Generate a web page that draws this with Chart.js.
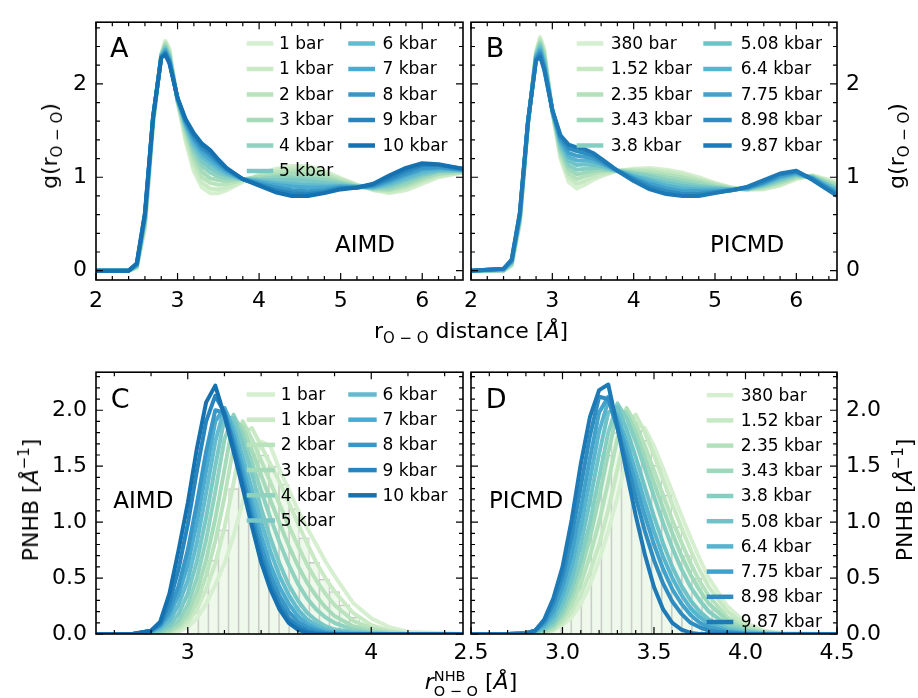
<!DOCTYPE html>
<html>
<head>
<meta charset="utf-8">
<script src="https://cdn.jsdelivr.net/npm/chart.js@4.4.0/dist/chart.umd.min.js"></script>
<style>
  html, body { margin: 0; padding: 0; background: #fff; }
  #fig { position: relative; width: 918px; height: 698px; font-family: "DejaVu Sans", sans-serif; color: #000; overflow: hidden; }
  canvas { position: absolute; }
  .lab { position: absolute; white-space: nowrap; font-size: 22px; line-height: 1; }
  .ctr { transform: translateX(-50%); }
  .rot { transform: translate(-50%, -50%) rotate(-90deg); }
  .sub { font-size: 0.68em; position: relative; top: 0.35em; }
  .sup { font-size: 0.68em; position: relative; top: -0.6em; }
  .stk { display: inline-block; position: relative; font-size: 0.66em; }
  .stk .sb { position: relative; top: 0.45em; }
  .stk .sp { position: absolute; left: 0; top: -0.55em; }
</style>
</head>
<body>
<div id="fig">
  <canvas id="cA" width="475" height="320" style="left:0;top:0"></canvas>
  <canvas id="cB" width="473" height="320" style="left:445px;top:0"></canvas>
  <canvas id="cC" width="475" height="340" style="left:0;top:350px"></canvas>
  <canvas id="cD" width="473" height="340" style="left:445px;top:350px"></canvas>

  <div class="lab rot" style="left:50px;top:146px">g(r<span class="sub">O − O</span>)</div>
  <div class="lab rot" style="left:897px;top:146px">g(r<span class="sub">O − O</span>)</div>
  <div class="lab ctr" style="left:471px;top:320px">r<span class="sub">O − O</span> distance [<i>Å</i>]</div>
  <div class="lab rot" style="left:31px;top:500px">PNHB [<i>Å</i><span class="sup">−1</span>]</div>
  <div class="lab rot" style="left:905px;top:500px">PNHB [<i>Å</i><span class="sup">−1</span>]</div>
  <div class="lab ctr" style="left:471px;top:671px"><i>r</i><span class="stk"><span class="sb">O − O</span><span class="sp">NHB</span></span> [<i>Å</i>]</div>
</div>
<script>
// ---- labels ----
const aimdLabels = ['1 bar', '1 kbar', '2 kbar', '3 kbar', '4 kbar', '5 kbar', '6 kbar', '7 kbar', '8 kbar', '9 kbar', '10 kbar'];
const picmdLabels = ['380 bar', '1.52 kbar', '2.35 kbar', '3.43 kbar', '3.8 kbar', '5.08 kbar', '6.4 kbar', '7.75 kbar', '8.98 kbar', '9.87 kbar'];

// ---- g(r) grid (A, B) ----
const rGrid = [2.0, 2.4, 2.5, 2.6, 2.7, 2.8, 2.85, 2.9, 3.0, 3.1, 3.2, 3.3, 3.4, 3.5, 3.6, 3.8, 4.0, 4.2, 4.4, 4.6, 4.8, 5.0, 5.2, 5.4, 5.6, 5.8, 6.0, 6.2, 6.5];

// A: AIMD g(r)
const gA_1bar  = [0,0,0.03,0.45,1.55,2.32,2.46,2.38,1.80,1.38,1.06,0.89,0.83,0.83,0.86,0.95,1.03,1.09,1.12,1.12,1.07,0.99,0.92,0.86,0.83,0.86,0.93,1.00,1.05];
const gA_1kbar = [0,0,0.03,0.47,1.57,2.32,2.45,2.36,1.81,1.42,1.11,0.94,0.88,0.87,0.89,0.96,1.02,1.07,1.10,1.10,1.05,0.98,0.92,0.87,0.84,0.88,0.95,1.01,1.05];
const gA_2kbar = [0,0,0.04,0.49,1.58,2.31,2.43,2.34,1.81,1.46,1.17,1.00,0.94,0.92,0.93,0.97,1.01,1.05,1.07,1.07,1.03,0.97,0.91,0.87,0.86,0.90,0.97,1.03,1.06];
const gA_3kbar = [0,0,0.04,0.51,1.60,2.31,2.42,2.32,1.82,1.49,1.22,1.06,0.99,0.97,0.96,0.98,1.00,1.02,1.04,1.03,1.00,0.95,0.91,0.88,0.87,0.92,0.99,1.04,1.06];
const gA_4kbar = [0,0,0.05,0.53,1.61,2.31,2.40,2.30,1.82,1.52,1.27,1.12,1.05,1.01,0.99,0.98,0.98,1.00,1.00,0.99,0.97,0.94,0.90,0.88,0.89,0.94,1.01,1.06,1.07];
const gA_5kbar = [0,0,0.05,0.55,1.62,2.30,2.39,2.29,1.83,1.54,1.31,1.17,1.10,1.05,1.02,0.98,0.97,0.97,0.97,0.96,0.94,0.92,0.90,0.89,0.91,0.97,1.03,1.07,1.07];
const gA_6kbar = [0,0,0.06,0.56,1.63,2.30,2.37,2.27,1.83,1.56,1.35,1.22,1.15,1.09,1.04,0.98,0.96,0.94,0.93,0.92,0.91,0.91,0.90,0.89,0.93,0.99,1.05,1.08,1.08];
const gA_7kbar = [0,0,0.06,0.58,1.64,2.29,2.36,2.26,1.84,1.58,1.39,1.26,1.19,1.12,1.06,0.98,0.95,0.92,0.90,0.89,0.89,0.90,0.89,0.90,0.95,1.02,1.08,1.10,1.08];
const gA_8kbar = [0,0,0.07,0.59,1.64,2.29,2.34,2.24,1.84,1.59,1.42,1.30,1.23,1.15,1.08,0.98,0.93,0.89,0.86,0.85,0.86,0.89,0.89,0.91,0.97,1.04,1.10,1.11,1.08];
const gA_9kbar = [0,0,0.07,0.61,1.65,2.28,2.33,2.23,1.85,1.61,1.45,1.33,1.26,1.17,1.09,0.98,0.92,0.86,0.83,0.82,0.84,0.88,0.89,0.92,0.99,1.07,1.13,1.13,1.09];
const gA_10kbar = [0,0,0.08,0.62,1.65,2.28,2.31,2.22,1.85,1.62,1.47,1.36,1.29,1.19,1.10,0.98,0.91,0.84,0.80,0.80,0.83,0.87,0.89,0.93,1.02,1.10,1.15,1.14,1.09];

// B: PICMD g(r)
const gB_380bar = [0,0,0.05,0.50,1.55,2.35,2.50,2.38,1.70,1.20,0.95,0.88,0.92,0.97,1.01,1.07,1.09,1.10,1.08,1.05,1.00,0.94,0.89,0.87,0.87,0.91,0.98,1.02,0.95];
const gB_1p52 = [0,0,0.06,0.51,1.56,2.34,2.48,2.35,1.70,1.23,1.00,0.93,0.96,1.00,1.03,1.07,1.08,1.08,1.06,1.03,0.98,0.93,0.89,0.87,0.88,0.92,0.99,1.02,0.93];
const gB_2p35 = [0,0,0.07,0.53,1.56,2.33,2.46,2.33,1.70,1.26,1.04,0.98,1.01,1.04,1.06,1.07,1.07,1.06,1.03,1.00,0.96,0.92,0.88,0.87,0.89,0.94,1.00,1.01,0.92];
const gB_3p43 = [0,0,0.07,0.54,1.57,2.32,2.44,2.30,1.71,1.29,1.09,1.03,1.05,1.07,1.08,1.07,1.05,1.03,1.00,0.97,0.94,0.90,0.88,0.87,0.90,0.95,1.01,1.01,0.90];
const gB_3p8  = [0,0.01,0.08,0.55,1.57,2.31,2.42,2.28,1.71,1.32,1.13,1.08,1.09,1.10,1.10,1.07,1.04,1.01,0.97,0.94,0.91,0.89,0.87,0.88,0.91,0.97,1.02,1.00,0.88];
const gB_5p08 = [0,0.01,0.09,0.57,1.58,2.30,2.40,2.25,1.71,1.35,1.18,1.13,1.14,1.13,1.12,1.07,1.02,0.98,0.94,0.91,0.89,0.88,0.87,0.88,0.92,0.98,1.03,1.00,0.87];
const gB_6p4  = [0,0.01,0.10,0.58,1.58,2.29,2.37,2.22,1.71,1.38,1.22,1.18,1.18,1.17,1.14,1.07,1.01,0.96,0.91,0.88,0.87,0.87,0.87,0.88,0.93,1.00,1.04,0.99,0.85];
const gB_7p75 = [0,0.02,0.10,0.59,1.59,2.28,2.35,2.20,1.72,1.40,1.26,1.23,1.22,1.20,1.16,1.07,0.99,0.93,0.88,0.85,0.85,0.85,0.86,0.89,0.94,1.01,1.05,0.99,0.83];
const gB_8p98 = [0,0.02,0.11,0.61,1.59,2.26,2.32,2.17,1.72,1.43,1.31,1.28,1.26,1.23,1.18,1.07,0.98,0.90,0.85,0.82,0.82,0.84,0.86,0.89,0.95,1.03,1.06,0.98,0.82];
const gB_9p87 = [0,0.02,0.12,0.62,1.60,2.25,2.29,2.15,1.72,1.45,1.35,1.32,1.30,1.26,1.20,1.07,0.96,0.87,0.82,0.80,0.80,0.83,0.86,0.90,0.97,1.04,1.07,0.97,0.80];

// ---- PNHB grid (C, D) ----
const nhbGrid = [2.5, 2.7, 2.8, 2.85, 2.9, 2.95, 3.0, 3.05, 3.1, 3.15, 3.2, 3.25, 3.3, 3.35, 3.4, 3.45, 3.5, 3.55, 3.6, 3.65, 3.7, 3.75, 3.8, 3.9, 4.0, 4.1, 4.2, 4.5];

// C: AIMD PNHB
const pC_1bar  = [0,0,0,0,0.01,0.02,0.06,0.14,0.27,0.44,0.63,0.88,1.18,1.47,1.72,1.68,1.47,1.29,1.11,0.95,0.80,0.65,0.52,0.28,0.14,0.06,0.02,0];
const pC_1kbar = [0,0,0,0,0.01,0.04,0.10,0.22,0.40,0.63,0.95,1.35,1.80,1.84,1.68,1.52,1.36,1.18,0.99,0.81,0.64,0.50,0.38,0.19,0.08,0.03,0.01,0];
const pC_2kbar = [0,0,0,0.01,0.02,0.06,0.14,0.29,0.52,0.83,1.22,1.68,1.90,1.74,1.55,1.36,1.16,0.97,0.79,0.62,0.48,0.36,0.26,0.12,0.05,0.02,0,0];
const pC_3kbar = [0,0,0,0.01,0.03,0.08,0.19,0.38,0.66,1.03,1.47,1.92,1.85,1.64,1.42,1.20,0.99,0.79,0.61,0.46,0.34,0.24,0.16,0.07,0.03,0.01,0,0];
const pC_4kbar = [0,0,0.01,0.02,0.05,0.12,0.26,0.50,0.84,1.27,1.74,1.96,1.78,1.53,1.28,1.04,0.82,0.62,0.45,0.32,0.22,0.15,0.10,0.04,0.01,0,0,0];
const pC_5kbar = [0,0,0.01,0.03,0.08,0.18,0.36,0.65,1.04,1.50,1.93,1.93,1.70,1.43,1.12,0.86,0.63,0.44,0.30,0.19,0.12,0.07,0.04,0.02,0.01,0,0,0];
const pC_6kbar = [0,0,0.02,0.05,0.12,0.26,0.48,0.82,1.26,1.72,2.02,1.85,1.58,1.29,1.00,0.74,0.52,0.35,0.22,0.13,0.08,0.04,0.02,0.01,0,0,0,0];
const pC_7kbar = [0,0,0.02,0.07,0.17,0.35,0.62,1.00,1.46,1.90,2.02,1.78,1.48,1.17,0.88,0.62,0.42,0.27,0.16,0.09,0.05,0.02,0.01,0,0,0,0,0];
const pC_8kbar = [0,0,0.03,0.08,0.21,0.43,0.75,1.17,1.63,2.00,1.98,1.72,1.40,1.08,0.78,0.53,0.34,0.20,0.11,0.06,0.03,0.01,0,0,0,0,0,0];
const pC_9kbar = [0,0,0.03,0.09,0.28,0.58,0.98,1.46,1.90,2.13,1.98,1.68,1.35,1.01,0.70,0.45,0.27,0.14,0.07,0.03,0.01,0,0,0,0,0,0,0];
const pC_10kbar = [0,0,0.03,0.11,0.36,0.75,1.17,1.66,2.07,2.22,1.95,1.63,1.30,0.96,0.64,0.40,0.22,0.10,0.04,0.01,0,0,0,0,0,0,0,0];

// D: PICMD PNHB
const pD_380bar = [0,0,0,0,0.01,0.03,0.08,0.15,0.27,0.44,0.66,0.92,1.22,1.57,1.88,1.84,1.68,1.48,1.27,1.06,0.86,0.67,0.50,0.25,0.10,0.03,0.01,0];
const pD_1p52 = [0,0,0,0,0.01,0.04,0.10,0.20,0.35,0.55,0.80,1.11,1.47,1.84,1.96,1.80,1.60,1.38,1.16,0.95,0.75,0.57,0.42,0.20,0.08,0.02,0,0];
const pD_2p35 = [0,0,0,0.01,0.02,0.05,0.13,0.26,0.45,0.70,1.00,1.36,1.75,2.02,1.88,1.68,1.46,1.24,1.02,0.82,0.63,0.47,0.34,0.15,0.06,0.02,0,0];
const pD_3p43 = [0,0,0,0.01,0.03,0.07,0.17,0.33,0.56,0.86,1.22,1.62,1.99,1.98,1.80,1.58,1.35,1.12,0.90,0.70,0.53,0.39,0.27,0.12,0.04,0.01,0,0];
const pD_3p8  = [0,0,0,0.01,0.04,0.09,0.21,0.40,0.66,1.00,1.40,1.80,2.06,1.93,1.72,1.48,1.23,0.99,0.77,0.58,0.42,0.30,0.20,0.08,0.03,0.01,0,0];
const pD_5p08 = [0,0,0,0.02,0.05,0.12,0.27,0.49,0.80,1.19,1.61,1.98,2.03,1.83,1.58,1.31,1.05,0.81,0.60,0.43,0.30,0.20,0.13,0.05,0.02,0,0,0];
const pD_6p4  = [0,0,0.01,0.02,0.07,0.16,0.34,0.60,0.95,1.38,1.81,2.08,1.95,1.72,1.45,1.18,0.92,0.69,0.50,0.35,0.23,0.15,0.09,0.03,0.01,0,0,0];
const pD_7p75 = [0,0,0.01,0.03,0.09,0.21,0.42,0.72,1.12,1.57,1.98,2.12,1.90,1.63,1.34,1.06,0.80,0.58,0.40,0.27,0.17,0.10,0.06,0.02,0,0,0,0];
const pD_8p98 = [0,0,0.01,0.03,0.11,0.27,0.51,0.87,1.32,1.77,2.12,2.10,1.84,1.54,1.22,0.92,0.66,0.45,0.29,0.18,0.10,0.06,0.03,0.01,0,0,0,0];
const pD_9p87 = [0,0,0,0.03,0.13,0.32,0.60,1.02,1.52,1.94,2.18,2.23,1.85,1.45,1.06,0.71,0.42,0.22,0.10,0.04,0.01,0,0,0,0,0,0,0];

// histograms behind C and D (bin centres, heights)
const histC_x = [3.03, 3.085, 3.14, 3.195, 3.25, 3.305, 3.36, 3.415, 3.47, 3.525, 3.58, 3.635, 3.69, 3.745, 3.80, 3.855, 3.91, 3.965, 4.02];
const histC_y = [0.19, 0.38, 0.66, 0.93, 1.30, 1.48, 1.58, 1.60, 1.50, 1.34, 1.12, 0.86, 0.64, 0.49, 0.38, 0.26, 0.15, 0.09, 0.04];
const histD_x = [2.965, 3.02, 3.075, 3.13, 3.185, 3.24, 3.295, 3.35, 3.405, 3.46, 3.515, 3.57, 3.625, 3.68, 3.735, 3.79, 3.845, 3.90, 3.955];
const histD_y = [0.10, 0.30, 0.55, 0.87, 1.25, 1.60, 1.80, 1.87, 1.82, 1.73, 1.51, 1.24, 0.96, 0.70, 0.50, 0.33, 0.21, 0.12, 0.05];

// tick labels
const rTicks = [2, 3, 4, 5, 6];
const gTicks = [0, 1, 2];
const nhbTicksC = [3, 4];
const nhbTicksD = [2.5, 3.0, 3.5, 4.0, 4.5];
const pTicks = [0, 0.5, 1.0, 1.5, 2.0];

// colours (GnBu, light -> dark)
const colorsAimd = ['#d6efd0', '#c9eac4', '#b9e3bd', '#a6dbb9', '#8fd2bf', '#79c8c6', '#62bbcf', '#4baacf', '#3897c6', '#2784bc', '#1571b0'];
const colorsPicmd = ['#d6efd0', '#c6e8c2', '#b3e1bc', '#9dd8bb', '#85cec2', '#6ec3c9', '#56b4cf', '#42a1cb', '#2f8cc1', '#1e7ab6'];

const seriesA = [gA_1bar, gA_1kbar, gA_2kbar, gA_3kbar, gA_4kbar, gA_5kbar, gA_6kbar, gA_7kbar, gA_8kbar, gA_9kbar, gA_10kbar];
const seriesB = [gB_380bar, gB_1p52, gB_2p35, gB_3p43, gB_3p8, gB_5p08, gB_6p4, gB_7p75, gB_8p98, gB_9p87];
const seriesC = [pC_1bar, pC_1kbar, pC_2kbar, pC_3kbar, pC_4kbar, pC_5kbar, pC_6kbar, pC_7kbar, pC_8kbar, pC_9kbar, pC_10kbar];
const seriesD = [pD_380bar, pD_1p52, pD_2p35, pD_3p43, pD_3p8, pD_5p08, pD_6p4, pD_7p75, pD_8p98, pD_9p87];

Chart.defaults.font.family = '"DejaVu Sans", sans-serif';
Chart.defaults.color = '#000';

function lineSets(xs, series, colors) {
    return series.map((ys, i) => ({
        data: xs.map((x, j) => ({ x: x, y: ys[j] })),
        borderColor: colors[i],
        borderWidth: 4,
        pointRadius: 0,
        tension: 0,
        fill: false,
        borderJoinStyle: 'round',
        order: series.length - i   // darkest drawn last (on top)
    }));
}

function histSet(xs, ys) {
    return {
        type: 'bar',
        data: xs.map((x, j) => ({ x: x, y: ys[j] })),
        backgroundColor: 'rgba(224, 243, 219, 0.55)',
        borderColor: '#c2c2c2',
        borderWidth: { top: 1, left: 0.6, right: 0.6, bottom: 0 },
        borderSkipped: false,
        barPercentage: 1,
        categoryPercentage: 1,
        order: 99
    };
}

function steps(lo, hi, step) {
    const out = [];
    for (let v = lo; v <= hi + 1e-9; v += step) out.push(+v.toFixed(4));
    return out;
}

// legend, panel letter, inward ticks and frame
const deco = {
    id: 'deco',
    afterDatasetsDraw(chart, args, o) {
        const { ctx, chartArea: a } = chart;
        const sx = chart.scales.x, sy = chart.scales.y;
        ctx.save();

        ctx.font = '17px "DejaVu Sans"';
        ctx.textAlign = 'left';
        ctx.textBaseline = 'middle';
        o.cols.forEach(col => col.idx.forEach((k, r) => {
            const yy = a.top + o.legY + r * o.legDy;
            ctx.strokeStyle = o.colors[k];
            ctx.lineWidth = 4.5;
            ctx.beginPath();
            ctx.moveTo(a.left + col.x0, yy);
            ctx.lineTo(a.left + col.x1, yy);
            ctx.stroke();
            ctx.fillStyle = '#000';
            ctx.fillText(o.labels[k], a.left + col.tx, yy + 1);
        }));

        ctx.textBaseline = 'alphabetic';
        ctx.font = '27px "DejaVu Sans"';
        ctx.fillText(o.letter, a.left + o.letterPos[0], a.top + o.letterPos[1]);
        ctx.font = '23px "DejaVu Sans"';
        ctx.fillText(o.note, a.left + o.notePos[0], a.top + o.notePos[1]);

        ctx.strokeStyle = '#000';
        ctx.lineWidth = 1.2;
        const near = (v, arr) => arr.some(m => Math.abs(m - v) < 1e-6);
        const xTick = (v, len) => {
            const px = sx.getPixelForValue(v);
            ctx.beginPath();
            ctx.moveTo(px, a.bottom); ctx.lineTo(px, a.bottom - len);
            ctx.moveTo(px, a.top); ctx.lineTo(px, a.top + len);
            ctx.stroke();
        };
        const yTick = (v, len) => {
            const py = sy.getPixelForValue(v);
            ctx.beginPath();
            ctx.moveTo(a.left, py); ctx.lineTo(a.left + len, py);
            ctx.moveTo(a.right, py); ctx.lineTo(a.right - len, py);
            ctx.stroke();
        };
        o.xMajor.forEach(v => xTick(v, 7));
        o.xMinor.filter(v => !near(v, o.xMajor)).forEach(v => xTick(v, 4));
        o.yMajor.forEach(v => yTick(v, 7));
        o.yMinor.filter(v => !near(v, o.yMajor)).forEach(v => yTick(v, 4));

        ctx.lineWidth = 1.6;
        ctx.strokeRect(a.left, a.top, a.right - a.left, a.bottom - a.top);
        ctx.restore();
    }
};

function panelOptions(p) {
    return {
        responsive: false,
        animation: false,
        events: [],
        layout: { padding: p.pad },
        plugins: { legend: { display: false }, tooltip: { enabled: false }, deco: p.deco },
        scales: {
            x: {
                type: 'linear', min: p.xr[0], max: p.xr[1], offset: false,
                grid: { display: false, drawTicks: false, offset: false },
                border: { display: false },
                afterBuildTicks: s => { s.ticks = p.xt.map(v => ({ value: v })); },
                afterFit: s => { s.height = p.xh; },
                ticks: { autoSkip: false, maxRotation: 0, padding: p.xpad, color: '#000', font: { size: 22 }, callback: p.fx }
            },
            y: {
                type: 'linear', position: p.ypos, min: p.yr[0], max: p.yr[1],
                grid: { display: false, drawTicks: false },
                border: { display: false },
                afterBuildTicks: s => { s.ticks = p.yt.map(v => ({ value: v })); },
                afterFit: s => { s.width = p.yw; },
                ticks: { autoSkip: false, padding: 9, color: '#000', font: { size: 22 }, callback: p.fy }
            }
        }
    };
}

const fmtInt = v => String(v);
const fmt1 = v => v.toFixed(1);

// A
new Chart(document.getElementById('cA'), {
    type: 'line',
    data: { datasets: lineSets(rGrid, seriesA, colorsAimd) },
    options: panelOptions({
        xr: [2, 6.5], yr: [-0.1, 2.66], xt: rTicks, yt: gTicks, fx: fmtInt, fy: fmtInt,
        ypos: 'left', yw: 96, xh: 40, xpad: 8, pad: { left: 0, top: 12, right: 12, bottom: 0 },
        deco: {
            letter: 'A', letterPos: [14, 35], note: 'AIMD', notePos: [239, 230],
            labels: aimdLabels, colors: colorsAimd, legY: 21.3, legDy: 25.5,
            cols: [{ x0: 150.7, x1: 177.3, tx: 183, idx: [0, 1, 2, 3, 4, 5] },
                   { x0: 252.3, x1: 279, tx: 286.5, idx: [6, 7, 8, 9, 10] }],
            xMajor: rTicks, xMinor: steps(2, 6.4, 0.2), yMajor: gTicks, yMinor: steps(0, 2.6, 0.2)
        }
    }),
    plugins: [deco]
});

// B
new Chart(document.getElementById('cB'), {
    type: 'line',
    data: { datasets: lineSets(rGrid, seriesB, colorsPicmd) },
    options: panelOptions({
        xr: [2, 6.5], yr: [-0.1, 2.66], xt: rTicks, yt: gTicks, fx: fmtInt, fy: fmtInt,
        ypos: 'right', yw: 81, xh: 40, xpad: 8, pad: { left: 26, top: 12, right: 0, bottom: 0 },
        deco: {
            letter: 'B', letterPos: [14.7, 35], note: 'PICMD', notePos: [239, 230],
            labels: picmdLabels, colors: colorsPicmd, legY: 21.3, legDy: 25.5,
            cols: [{ x0: 105.7, x1: 132.3, tx: 139.7, idx: [0, 1, 2, 3, 4] },
                   { x0: 232.3, x1: 260.7, tx: 269.7, idx: [5, 6, 7, 8, 9] }],
            xMajor: rTicks, xMinor: steps(2, 6.4, 0.2), yMajor: gTicks, yMinor: steps(0, 2.6, 0.2)
        }
    }),
    plugins: [deco]
});

// C
new Chart(document.getElementById('cC'), {
    type: 'line',
    data: { datasets: [histSet(histC_x, histC_y)].concat(lineSets(nhbGrid, seriesC, colorsAimd)) },
    options: panelOptions({
        xr: [2.5, 4.5], yr: [0, 2.34], xt: nhbTicksC, yt: pTicks, fx: fmtInt, fy: fmt1,
        ypos: 'left', yw: 96, xh: 56, xpad: 6, pad: { left: 0, top: 16, right: 12, bottom: 0 },
        deco: {
            letter: 'C', letterPos: [14.7, 35.5], note: 'AIMD', notePos: [17.3, 135.7],
            labels: aimdLabels, colors: colorsAimd, legY: 22.3, legDy: 25.2,
            cols: [{ x0: 150.7, x1: 179, tx: 184.7, idx: [0, 1, 2, 3, 4, 5] },
                   { x0: 252.3, x1: 280.7, tx: 286.5, idx: [6, 7, 8, 9, 10] }],
            xMajor: nhbTicksC, xMinor: steps(2.6, 4.4, 0.2), yMajor: pTicks, yMinor: steps(0, 2.3, 0.1)
        }
    }),
    plugins: [deco]
});

// D
new Chart(document.getElementById('cD'), {
    type: 'line',
    data: { datasets: [histSet(histD_x, histD_y)].concat(lineSets(nhbGrid, seriesD, colorsPicmd)) },
    options: panelOptions({
        xr: [2.5, 4.5], yr: [0, 2.34], xt: nhbTicksD, yt: pTicks, fx: fmt1, fy: fmt1,
        ypos: 'right', yw: 81, xh: 56, xpad: 6, pad: { left: 26, top: 16, right: 0, bottom: 0 },
        deco: {
            letter: 'D', letterPos: [14.7, 36], note: 'PICMD', notePos: [18, 135.7],
            labels: picmdLabels, colors: colorsPicmd, legY: 23, legDy: 25.2,
            cols: [{ x0: 235.7, x1: 262.3, tx: 269.7, idx: [0, 1, 2, 3, 4, 5, 6, 7, 8, 9] }],
            xMajor: nhbTicksD, xMinor: steps(2.5, 4.5, 0.1), yMajor: pTicks, yMinor: steps(0, 2.3, 0.1)
        }
    }),
    plugins: [deco]
});
</script>
</body>
</html>
